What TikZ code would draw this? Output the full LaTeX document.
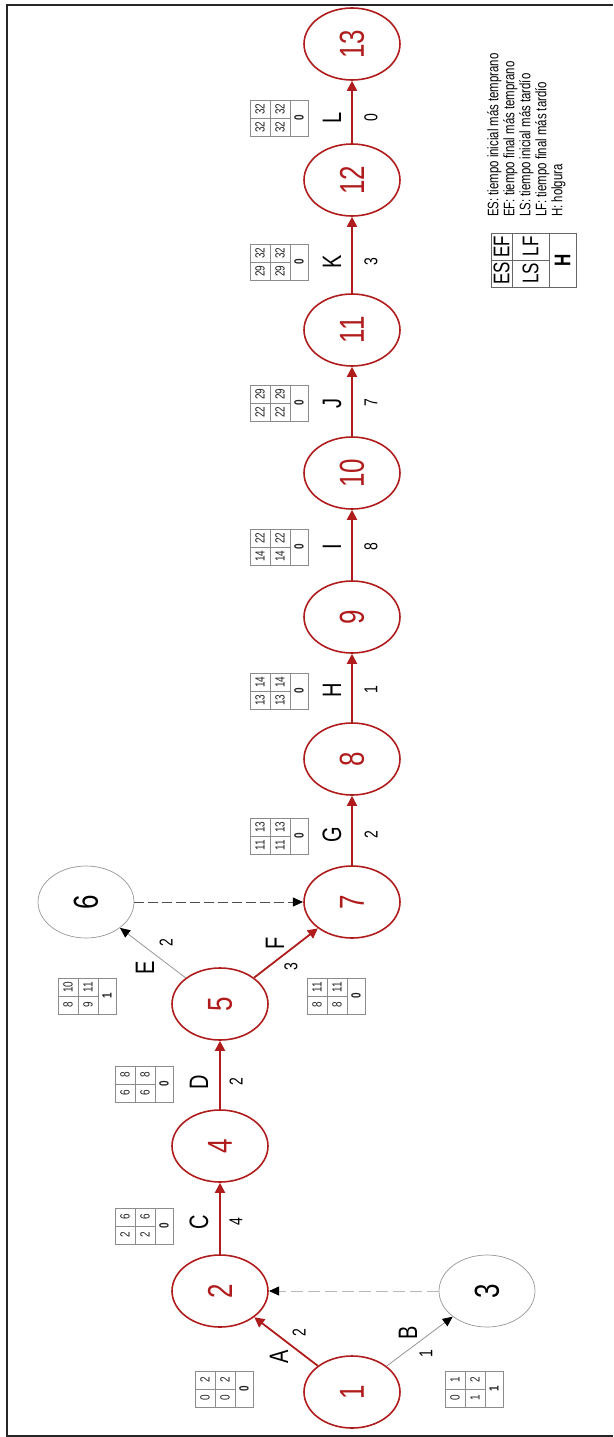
\documentclass[tikz,border=0pt]{standalone}
\usepackage{fontspec}
\setmainfont{Liberation Sans}
\usetikzlibrary{arrows.meta}

\definecolor{critred}{RGB}{176,28,28}
\definecolor{dummygray}{RGB}{185,185,185}
\definecolor{freegray}{RGB}{150,150,150}

% activity box: ES EF / LS LF / H  (drawn turned a quarter turn)
\newcommand\acttab[8]{%
  \draw[tabrule] (#2,#3) rectangle ++(58,36);
  \draw[tabrule] (#2+20,#3) -- ++(0,36) (#2+40,#3) -- ++(0,36) (#2,#3+18) -- ++(40,0);
  \node[tabnum] (#1es) at (#2+10,#3+27) {#4};
  \node[tabnum] (#1ef) at (#2+10,#3+9) {#5};
  \node[tabnum] (#1ls) at (#2+30,#3+27) {#6};
  \node[tabnum] (#1lf) at (#2+30,#3+9) {#7};
  \node[tabnum,font=\fontsize{10}{10}\selectfont\bfseries] (#1h) at (#2+49,#3+18) {#8};
}

\begin{document}
\begin{tikzpicture}[x=1pt,y=-1pt,
  turned/.style={xscale=1.333,rotate=90},
  crit/.style={circle,turned,draw=critred,line width=1.6pt,minimum size=72pt,inner sep=0pt,
    text=critred,font=\fontsize{26}{26}\selectfont},
  free/.style={circle,turned,draw=freegray,line width=0.7pt,minimum size=72pt,inner sep=0pt,
    text=black,font=\fontsize{26}{26}\selectfont},
  critedge/.style={draw=critred,line width=1.8pt,-{Triangle[length=10pt,width=10pt]}},
  freeedge/.style={draw=freegray,line width=0.8pt,-{Triangle[length=10pt,width=9pt,color=black]}},
  dummyedge/.style={line width=0.9pt,dash pattern=on 12pt off 5pt,-{Triangle[length=10pt,width=9pt,color=black]}},
  actlbl/.style={turned,inner sep=0pt,font=\fontsize{20}{20}\selectfont},
  durlbl/.style={turned,inner sep=0pt,font=\fontsize{14}{14}\selectfont},
  tabnum/.style={turned,inner sep=0pt,text=black!85,font=\fontsize{10}{10}\selectfont},
  tabrule/.style={draw=black!45,line width=0.6pt},
  legtab/.style={draw=black!60,line width=0.8pt},
  legnum/.style={turned,inner sep=0pt,font=\fontsize{17}{17}\selectfont}
]
\useasboundingbox (0,0) rectangle (613,1437);

% frame
\draw[line width=2pt,black!85] (613,5) -- (7,5) -- (7,1436) -- (613,1436);

% events
\node[crit] (n1) at (352,1392) {1};
\node[crit] (n2) at (220,1291) {2};
\node[free] (n3) at (487,1291) {3};
\node[crit] (n4) at (220,1146) {4};
\node[crit] (n5) at (220,1004) {5};
\node[free] (n6) at (86,902) {6};
\node[crit] (n7) at (352,902) {7};
\node[crit] (n8) at (352,759) {8};
\node[crit] (n9) at (352,617) {9};
\node[crit] (n10) at (352,473) {10};
\node[crit] (n11) at (352,330) {11};
\node[crit] (n12) at (352,180) {12};
\node[crit] (n13) at (352,44) {13};

% activities
\draw[critedge] (n1) -- (n2);
\draw[freeedge] (n1) -- (n3);
\draw[dummyedge,draw=dummygray] (n3) -- (n2);
\draw[critedge] (n2) -- (n4);
\draw[critedge] (n4) -- (n5);
\draw[freeedge] (n5) -- (n6);
\draw[critedge] (n5) -- (n7);
\draw[dummyedge,draw=black!70,dash pattern=on 10pt off 4pt] (n6) -- (n7);
\draw[critedge] (n7) -- (n8);
\draw[critedge] (n8) -- (n9);
\draw[critedge] (n9) -- (n10);
\draw[critedge] (n10) -- (n11);
\draw[critedge] (n11) -- (n12);
\draw[critedge] (n12) -- (n13);

% activity names and durations
\node[actlbl] (lA) at (279,1357) {A}; \node[durlbl] (dA) at (299,1333) {2};
\node[actlbl] (lB) at (408,1333) {B}; \node[durlbl] (dB) at (426,1354) {1};
\node[actlbl] (lC) at (199,1222) {C}; \node[durlbl] (dC) at (236,1222) {4};
\node[actlbl] (lD) at (199,1082) {D}; \node[durlbl] (dD) at (236,1082) {2};
\node[actlbl] (lE) at (145,968) {E};  \node[durlbl] (dE) at (166,943) {2};
\node[actlbl] (lF) at (275,943) {F};  \node[durlbl] (dF) at (291,967) {3};
\node[actlbl] (lG) at (332,835) {G};  \node[durlbl] (dG) at (371,835) {2};
\node[actlbl] (lH) at (332,690) {H};  \node[durlbl] (dH) at (371,690) {1};
\node[actlbl] (lI) at (332,547) {I};  \node[durlbl] (dI) at (371,547) {8};
\node[actlbl] (lJ) at (332,403) {J};  \node[durlbl] (dJ) at (371,403) {7};
\node[actlbl] (lK) at (332,262) {K};  \node[durlbl] (dK) at (371,262) {3};
\node[actlbl] (lL) at (332,118) {L};  \node[durlbl] (dL) at (371,118) {0};

% time boxes
\acttab{tA}{195}{1371}{0}{2}{0}{2}{0}
\acttab{tB}{445}{1371}{0}{1}{1}{2}{1}
\acttab{tC}{115}{1208}{2}{6}{2}{6}{0}
\acttab{tD}{115}{1066}{6}{8}{6}{8}{0}
\acttab{tE}{58}{978}{8}{10}{9}{11}{1}
\acttab{tF}{307}{978}{8}{11}{8}{11}{0}
\acttab{tG}{250}{818}{11}{13}{11}{13}{0}
\acttab{tH}{250}{673}{13}{14}{13}{14}{0}
\acttab{tI}{250}{529}{14}{22}{14}{22}{0}
\acttab{tJ}{250}{385}{22}{29}{22}{29}{0}
\acttab{tK}{250}{244}{29}{32}{29}{32}{0}
\acttab{tL}{250}{100}{32}{32}{32}{32}{0}

% key
\node[turned,anchor=north west,inner sep=0pt,align=left,font=\fontsize{11.4}{12}\selectfont] (key) at (487,217)
  {ES: tiempo inicial más temprano\\EF: tiempo final más temprano\\LS: tiempo inicial más tardío\\LF: tiempo final más tardío\\H: holgura};
\draw[legtab] (491,233) rectangle (576,287);
\draw[legtab] (512,233) -- (512,287) (549,233) -- (549,287) (491,260) -- (549,260);
\node[legnum] (kes) at (501.5,273.5) {ES};
\node[legnum] (kef) at (501.5,246.5) {EF};
\node[legnum] (kls) at (530.5,273.5) {LS};
\node[legnum] (klf) at (530.5,246.5) {LF};
\node[legnum,font=\fontsize{17}{17}\selectfont\bfseries] (kh) at (562.5,260) {H};
\end{tikzpicture}
\end{document}
